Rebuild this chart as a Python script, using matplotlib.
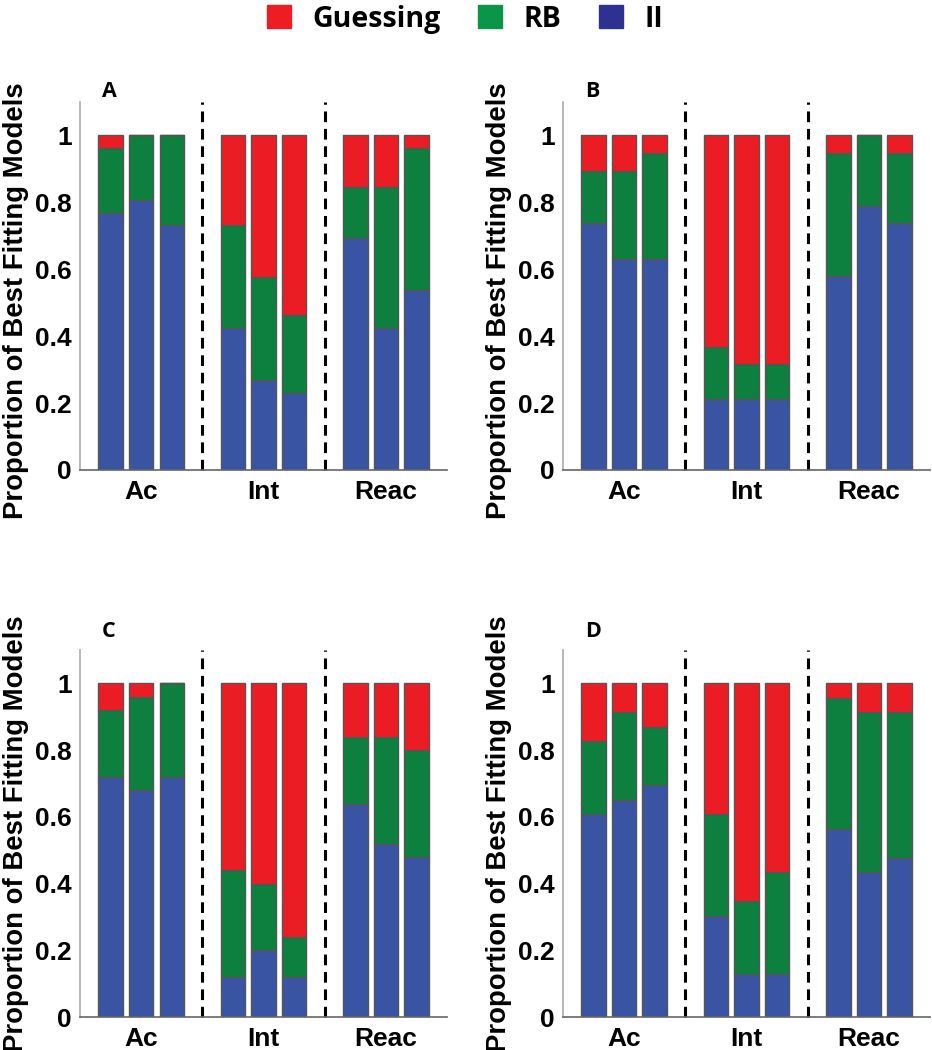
import numpy as np
import matplotlib.pyplot as plt
from matplotlib.patches import Patch

# proportions of best fitting models, 3 bars per condition (Ac, Int, Reac)
groups = ["Ac", "Int", "Reac"]
panels = ["A", "B", "C", "D"]

ii_vals = {
    "A": [0.769, 0.808, 0.731, 0.423, 0.269, 0.231, 0.692, 0.423, 0.538],
    "B": [0.737, 0.632, 0.632, 0.211, 0.211, 0.211, 0.579, 0.789, 0.737],
    "C": [0.72, 0.68, 0.72, 0.12, 0.20, 0.12, 0.64, 0.52, 0.48],
    "D": [0.609, 0.652, 0.696, 0.304, 0.130, 0.130, 0.565, 0.435, 0.478],
}
rb_vals = {
    "A": [0.192, 0.192, 0.269, 0.308, 0.308, 0.231, 0.154, 0.423, 0.423],
    "B": [0.158, 0.263, 0.316, 0.158, 0.105, 0.105, 0.368, 0.211, 0.211],
    "C": [0.20, 0.28, 0.28, 0.32, 0.20, 0.12, 0.20, 0.32, 0.32],
    "D": [0.217, 0.261, 0.174, 0.304, 0.217, 0.304, 0.391, 0.478, 0.435],
}
# guessing fills up to 1
guess_vals = {p: list(1 - np.array(ii_vals[p]) - np.array(rb_vals[p])) for p in panels}

red = "#EC1C24"
green = "#0D7F3F"
blue = "#3A54A4"

# axis text in a Helvetica-like face, legend/letters in a Myriad-like one
axis_font = ['Liberation Sans', 'DejaVu Sans']
label_font = ['Open Sans', 'DejaVu Sans']
plt.rcParams['font.family'] = axis_font
plt.rcParams['font.weight'] = 'bold'

fig = plt.figure(figsize=(9.32, 10.5), dpi=100)

# axes rectangles (left, bottom, width, height)
rects = {
    "A": [0.0858, 0.5524, 0.394, 0.3505],
    "B": [0.604, 0.5524, 0.394, 0.3505],
    "C": [0.0858, 0.0314, 0.394, 0.3495],
    "D": [0.604, 0.0314, 0.394, 0.3495],
}
ylabel_y = {"A": 0.46, "B": 0.46, "C": 0.5, "D": 0.5}
letter_y = {"A": 1.014, "B": 1.014, "C": 1.036, "D": 1.036}

xpos = np.array([1, 2, 3, 5, 6, 7, 9, 10, 11])

for p in panels:
    ax = fig.add_axes(rects[p])
    ii = np.array(ii_vals[p])
    rb = np.array(rb_vals[p])
    gu = np.array(guess_vals[p])
    kw = dict(width=0.8, edgecolor="#555555", linewidth=1.0)
    ax.bar(xpos, ii, color=blue, **kw)
    ax.bar(xpos, rb, bottom=ii, color=green, **kw)
    ax.bar(xpos, gu, bottom=ii + rb, color=red, **kw)

    for xv in [4, 8]:
        ax.plot([xv, xv], [0, 1.1], color="black", linestyle=(0, (3.5, 2.2)),
                linewidth=2.2, clip_on=False)

    ax.set_xlim(0, 12)
    ax.set_ylim(0, 1.1)
    ax.set_xticks([2, 6, 10])
    ax.set_xticklabels(groups, fontsize=19, fontweight="bold")
    ax.set_yticks([0, 0.2, 0.4, 0.6, 0.8, 1])
    ax.set_yticklabels(["0", "0.2", "0.4", "0.6", "0.8", "1"], fontsize=19, fontweight="bold")
    ax.tick_params(length=0)
    ax.tick_params(axis="x", pad=7)
    ax.tick_params(axis="y", pad=6)
    ax.spines["top"].set_visible(False)
    ax.spines["right"].set_visible(False)
    ax.spines["left"].set_color("#aaaaaa")
    ax.spines["bottom"].set_color("#666666")
    ax.spines["left"].set_linewidth(1.2)
    ax.spines["bottom"].set_linewidth(1.2)
    ax.set_ylabel("Proportion of Best Fitting Models", fontsize=19.8, fontweight="bold")
    ax.yaxis.set_label_coords(-0.14, ylabel_y[p])
    ax.text(0.06, letter_y[p], p, transform=ax.transAxes, fontsize=15.5, fontweight="bold",
            family=label_font, ha="left", va="baseline")

handles = [Patch(facecolor="#EE1D23", edgecolor="#EE1D23"),
           Patch(facecolor="#0A9548", edgecolor="#0A9548"),
           Patch(facecolor="#2E3192", edgecolor="#2E3192")]
fig.legend(handles, ["Guessing", "RB", "II"], loc="upper center", bbox_to_anchor=(0.499, 1.02),
           ncol=3, frameon=False, handlelength=0.84, handleheight=0.84,
           handletextpad=0.77, columnspacing=1.3,
           prop={"family": label_font, "weight": "bold", "size": 20.5})

fig.savefig("out.png", dpi=100)
